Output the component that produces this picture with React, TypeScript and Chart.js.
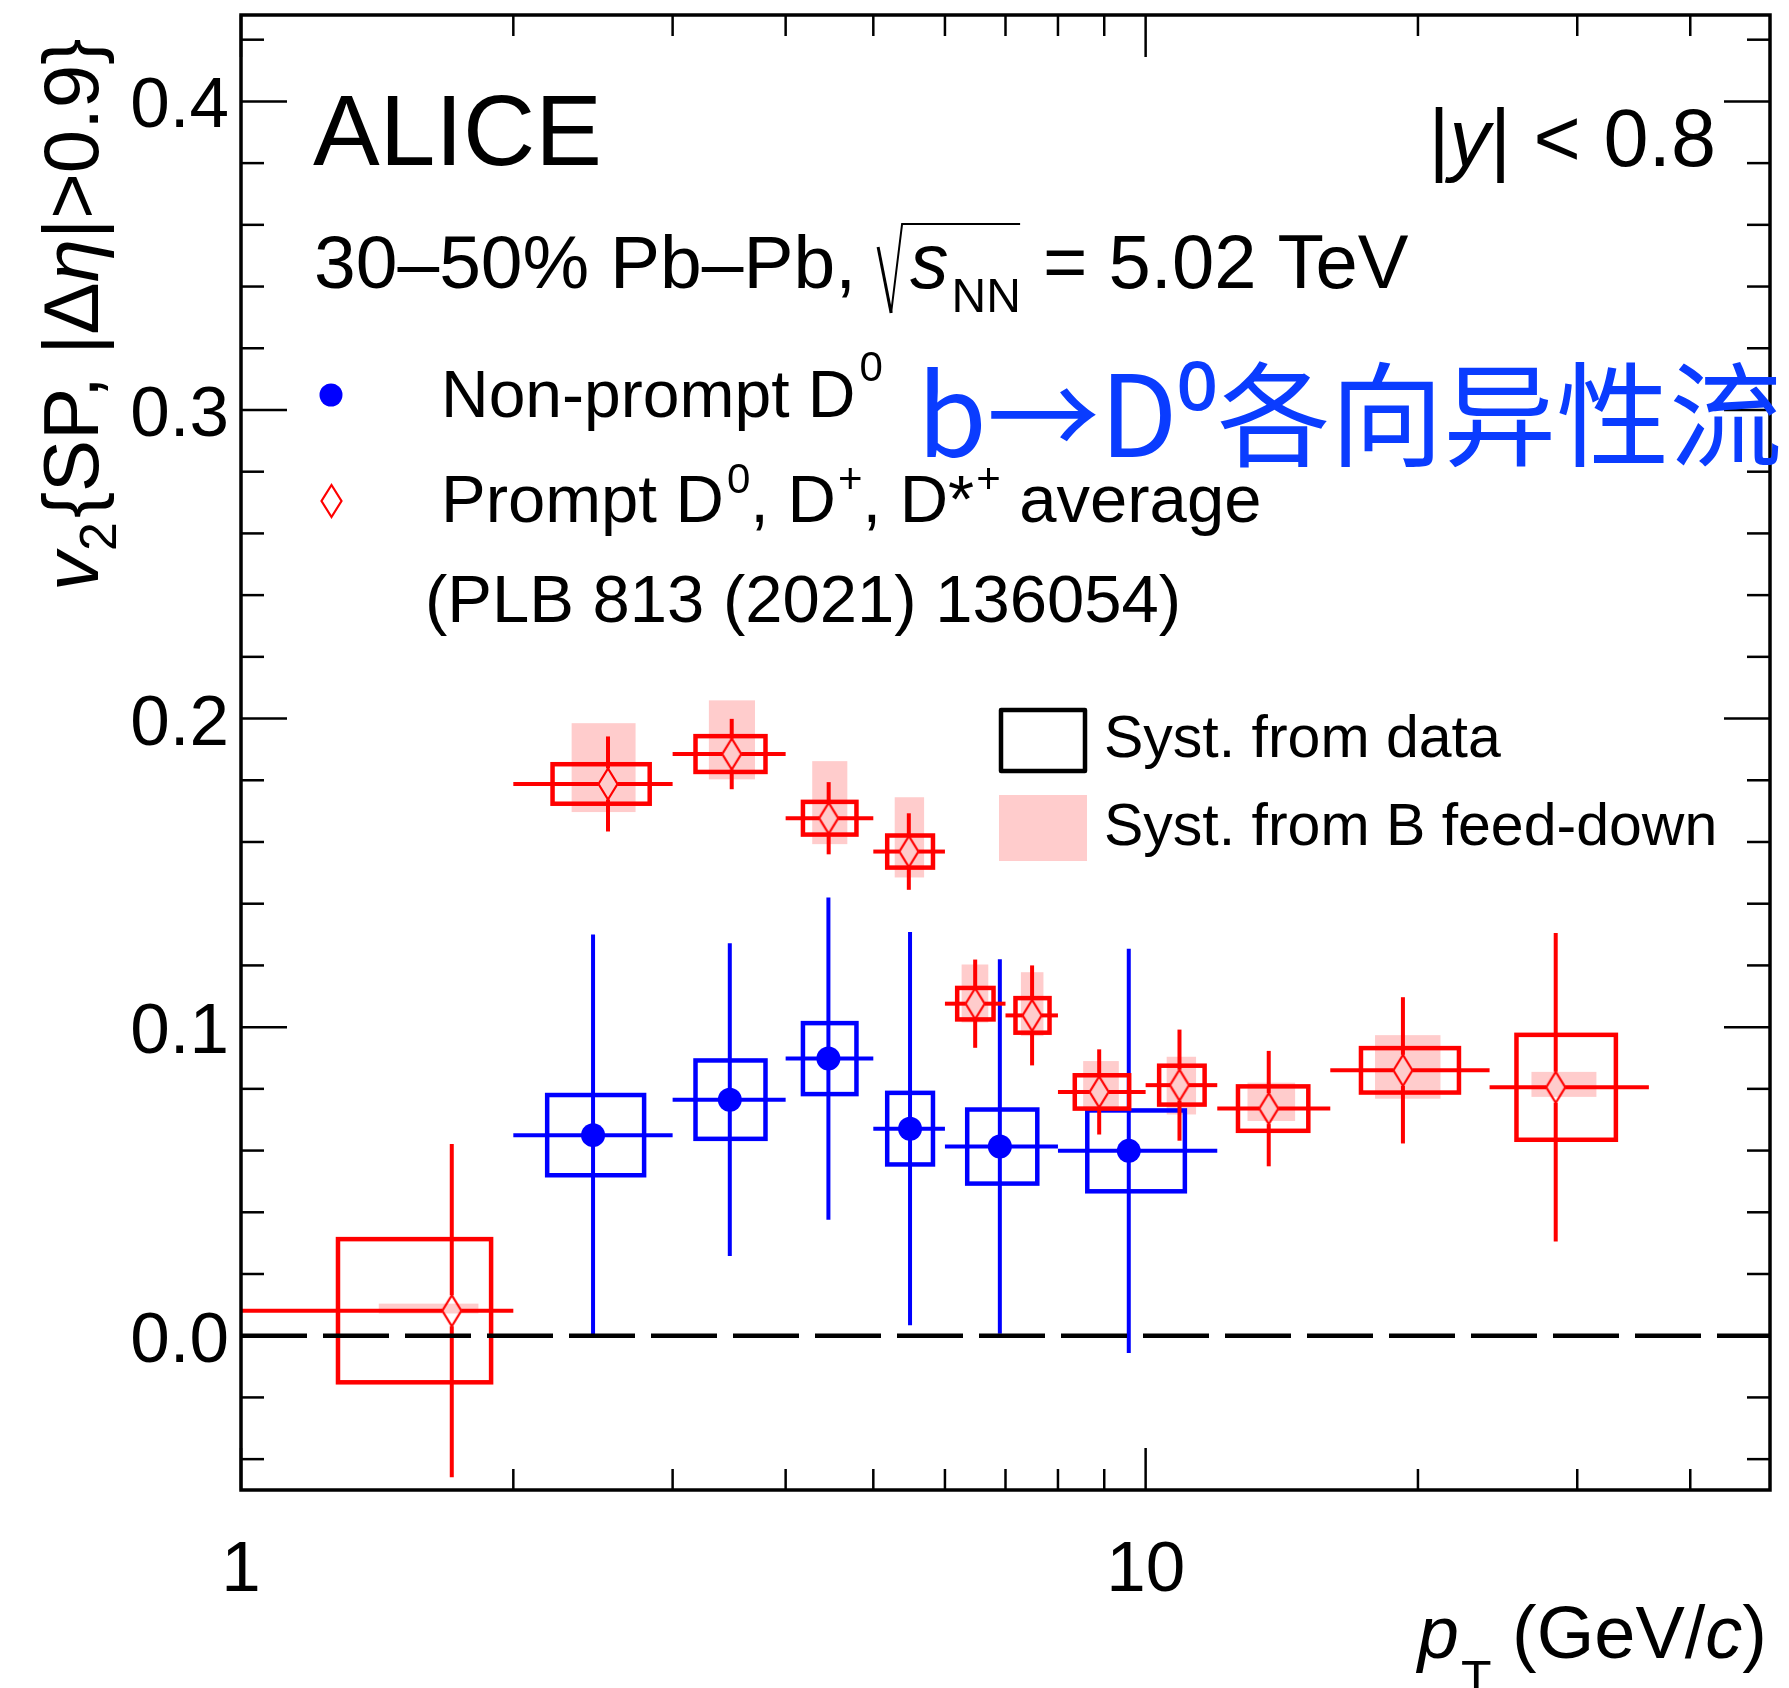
import React, { useEffect, useRef } from 'react';
import { Chart, registerables } from 'chart.js';

Chart.register(...registerables);

const W = 1789;
const H = 1688;
const FONT = '"Liberation Sans", Arial, Helvetica, sans-serif';
const CJK = '"Noto Sans CJK SC", "Noto Sans", sans-serif';
const BLUE = 'rgb(0,0,255)';
const RED = 'rgb(255,0,0)';
const PINK = 'rgb(255,204,204)';

// ---------- Non-prompt D0 (b -> D0) ----------
const npX = [2.45, 3.47, 4.46, 5.49, 6.9, 9.58];
const npY = [0.065, 0.0765, 0.0898, 0.0671, 0.0613, 0.0599];
const npXLow = [2, 3, 4, 5, 6, 8];
const npXHigh = [3, 4, 5, 6, 8, 12];
const npStat = [0.065, 0.0507, 0.0522, 0.0637, 0.0607, 0.0655];
const npSyst = [0.013, 0.0127, 0.0115, 0.0116, 0.012, 0.0131];
const npBoxLow = [2.18, 3.18, 4.18, 5.18, 6.35, 8.62];
const npBoxHigh = [2.79, 3.8, 4.79, 5.82, 7.59, 11.05];

// ---------- Prompt D0, D+, D*+ average ----------
const pX = [1.71, 2.545, 3.487, 4.463, 5.473, 6.48, 7.49, 8.885, 10.9, 13.68, 19.25, 28.4];
const pY = [0.0081, 0.1788, 0.1885, 0.1677, 0.1569, 0.1076, 0.1038, 0.079, 0.0812, 0.0736, 0.086, 0.0805];
const pXLow = [1, 2, 3, 4, 5, 6, 7, 8, 10, 12, 16, 24];
const pXHigh = [2, 3, 4, 5, 6, 7, 8, 10, 12, 16, 24, 36];
const pStat = [0.054, 0.0154, 0.0114, 0.0117, 0.0124, 0.0143, 0.0162, 0.0138, 0.018, 0.0187, 0.0237, 0.05];
const pSyst = [0.0232, 0.0064, 0.0058, 0.0053, 0.0052, 0.0051, 0.0056, 0.0054, 0.0063, 0.0072, 0.0072, 0.017];
const pBoxLow = [1.28, 2.21, 3.18, 4.18, 5.18, 6.19, 7.18, 8.35, 10.35, 12.65, 17.3, 25.7];
const pBoxHigh = [1.89, 2.83, 3.8, 4.79, 5.82, 6.79, 7.83, 9.59, 11.62, 15.13, 22.2, 33.1];
const pFdXLow = [1.42, 2.32, 3.29, 4.28, 5.28, 6.26, 7.28, 8.53, 10.55, 12.96, 17.93, 26.7];
const pFdXHigh = [1.83, 2.73, 3.7, 4.68, 5.69, 6.7, 7.71, 9.34, 11.37, 14.63, 21.18, 31.5];
const pFdYLow = [0.0072, 0.1697, 0.1803, 0.1593, 0.1485, 0.1015, 0.0971, 0.0733, 0.0717, 0.0696, 0.0768, 0.0774];
const pFdYHigh = [0.0104, 0.1985, 0.2059, 0.1862, 0.1745, 0.1203, 0.1178, 0.089, 0.0904, 0.082, 0.0974, 0.0855];

// ---------- axes ----------
const xMin = 1;
const xMax = 49;
const yMin = -0.05;
const yMax = 0.428;
const xMajorTicks = [1, 10];
const xTickLabels = ['1', '10'];
const xMinorTicks = [2, 3, 4, 5, 6, 7, 8, 9, 20, 30, 40];
const yMajorTicks = [0, 0.1, 0.2, 0.3, 0.4];
const yTickLabels = ['0.0', '0.1', '0.2', '0.3', '0.4'];
const yMinorTicks = [-0.04, -0.02, 0.02, 0.04, 0.06, 0.08, 0.12, 0.14, 0.16, 0.18, 0.22, 0.24, 0.26, 0.28, 0.32, 0.34, 0.36, 0.38, 0.42];

type Seg = { t: string; size: number; italic?: boolean; dy?: number; dx?: number; family?: string };

function segFont(s: Seg) {
  return `${s.italic ? 'italic ' : ''}${s.size}px ${s.family || FONT}`;
}
function richWidth(ctx: CanvasRenderingContext2D, segs: Seg[]) {
  let w = 0;
  for (const s of segs) {
    ctx.font = segFont(s);
    w += (s.dx || 0) + ctx.measureText(s.t).width;
  }
  return w;
}
function drawRich(ctx: CanvasRenderingContext2D, x: number, y: number, segs: Seg[], align: 'left' | 'right' = 'left') {
  let cx = align === 'right' ? x - richWidth(ctx, segs) : x;
  ctx.textAlign = 'left';
  ctx.textBaseline = 'alphabetic';
  for (const s of segs) {
    ctx.font = segFont(s);
    cx += s.dx || 0;
    ctx.fillText(s.t, cx, y + (s.dy || 0));
    cx += ctx.measureText(s.t).width;
  }
  return cx;
}

const DIA_HW = 9.5;
const DIA_HH = 15.5;

function makeDiamond(fill: string | null) {
  const c = document.createElement('canvas');
  c.width = 24;
  c.height = 36;
  const g = c.getContext('2d')!;
  g.beginPath();
  g.moveTo(12, 18 - DIA_HH);
  g.lineTo(12 + DIA_HW, 18);
  g.lineTo(12, 18 + DIA_HH);
  g.lineTo(12 - DIA_HW, 18);
  g.closePath();
  if (fill) {
    g.fillStyle = fill;
    g.fill();
  }
  g.strokeStyle = RED;
  g.lineWidth = 2.2;
  g.stroke();
  return c;
}

function line(ctx: CanvasRenderingContext2D, x1: number, y1: number, x2: number, y2: number) {
  ctx.beginPath();
  ctx.moveTo(x1, y1);
  ctx.lineTo(x2, y2);
  ctx.stroke();
}

const decor = {
  id: 'decor',
  beforeDatasetsDraw(chart: any) {
    const { ctx, chartArea: a } = chart;
    const xs = chart.scales.x;
    const ys = chart.scales.y;
    const px = (v: number) => xs.getPixelForValue(v);
    const py = (v: number) => ys.getPixelForValue(v);
    ctx.save();
    ctx.beginPath();
    ctx.rect(a.left, a.top, a.right - a.left, a.bottom - a.top);
    ctx.clip();

    // B feed-down systematic (pink filled)
    ctx.fillStyle = PINK;
    for (let i = 0; i < pX.length; i++) {
      const x1 = px(pFdXLow[i]);
      const x2 = px(pFdXHigh[i]);
      const y1 = py(pFdYHigh[i]);
      const y2 = py(pFdYLow[i]);
      ctx.fillRect(x1, y1, x2 - x1, y2 - y1);
    }

    ctx.lineCap = 'butt';
    // Non-prompt syst boxes
    ctx.strokeStyle = BLUE;
    ctx.lineWidth = 4.5;
    for (let i = 0; i < npX.length; i++) {
      const x1 = px(npBoxLow[i]);
      const x2 = px(npBoxHigh[i]);
      const y1 = py(npY[i] + npSyst[i]);
      const y2 = py(npY[i] - npSyst[i]);
      ctx.strokeRect(x1, y1, x2 - x1, y2 - y1);
    }
    // Non-prompt stat bars
    ctx.lineWidth = 4;
    for (let i = 0; i < npX.length; i++) {
      const cx = px(npX[i]);
      const cy = py(npY[i]);
      line(ctx, px(npXLow[i]), cy, px(npXHigh[i]), cy);
      line(ctx, cx, py(npY[i] + npStat[i]), cx, py(npY[i] - npStat[i]));
    }

    // Prompt syst boxes
    ctx.strokeStyle = RED;
    ctx.lineWidth = 4.5;
    for (let i = 0; i < pX.length; i++) {
      const x1 = px(pBoxLow[i]);
      const x2 = px(pBoxHigh[i]);
      const y1 = py(pY[i] + pSyst[i]);
      const y2 = py(pY[i] - pSyst[i]);
      ctx.strokeRect(x1, y1, x2 - x1, y2 - y1);
    }
    // Prompt stat bars (gap at the marker)
    ctx.lineWidth = 4;
    for (let i = 0; i < pX.length; i++) {
      const cx = px(pX[i]);
      const cy = py(pY[i]);
      const xl = px(pXLow[i]);
      const xh = px(pXHigh[i]);
      const yt = py(pY[i] + pStat[i]);
      const yb = py(pY[i] - pStat[i]);
      if (cx - DIA_HW > xl) line(ctx, xl, cy, cx - DIA_HW, cy);
      if (xh > cx + DIA_HW) line(ctx, cx + DIA_HW, cy, xh, cy);
      if (cy - DIA_HH > yt) line(ctx, cx, yt, cx, cy - DIA_HH);
      if (yb > cy + DIA_HH) line(ctx, cx, cy + DIA_HH, cx, yb);
    }

    // dashed zero line
    ctx.strokeStyle = '#000';
    ctx.lineWidth = 4.5;
    ctx.setLineDash([66, 16]);
    line(ctx, a.left, py(0), a.right, py(0));
    ctx.setLineDash([]);
    ctx.restore();
  },
  afterDraw(chart: any) {
    const { ctx, chartArea: a } = chart;
    const xs = chart.scales.x;
    const ys = chart.scales.y;
    const px = (v: number) => xs.getPixelForValue(v);
    const py = (v: number) => ys.getPixelForValue(v);
    ctx.save();
    ctx.fillStyle = '#000';
    ctx.strokeStyle = '#000';

    // ticks
    ctx.lineWidth = 2.5;
    for (const v of yMajorTicks) {
      const y = py(v);
      line(ctx, a.left, y, a.left + 46, y);
      line(ctx, a.right - 46, y, a.right, y);
    }
    for (const v of yMinorTicks) {
      const y = py(v);
      line(ctx, a.left, y, a.left + 23, y);
      line(ctx, a.right - 23, y, a.right, y);
    }
    for (const v of xMajorTicks) {
      const x = px(v);
      line(ctx, x, a.bottom, x, a.bottom - 42);
      line(ctx, x, a.top, x, a.top + 42);
    }
    for (const v of xMinorTicks) {
      const x = px(v);
      line(ctx, x, a.bottom, x, a.bottom - 21);
      line(ctx, x, a.top, x, a.top + 21);
    }
    // frame
    ctx.lineWidth = 3.5;
    ctx.strokeRect(a.left, a.top, a.right - a.left, a.bottom - a.top);

    // tick labels
    ctx.font = `71px ${FONT}`;
    ctx.textBaseline = 'alphabetic';
    ctx.textAlign = 'right';
    yMajorTicks.forEach((v, i) => ctx.fillText(yTickLabels[i], 229, py(v) + 26));
    ctx.textAlign = 'center';
    xMajorTicks.forEach((v, i) => ctx.fillText(xTickLabels[i], px(v), 1591));

    // axis titles
    drawRich(ctx, 1767, 1658, [
      { t: 'p', size: 74, italic: true },
      { t: 'T', size: 50, dy: 38, dx: 2 },
      { t: ' (GeV/', size: 74 },
      { t: 'c', size: 74, italic: true },
      { t: ')', size: 74 },
    ], 'right');
    ctx.save();
    ctx.translate(98, 591);
    ctx.rotate(-Math.PI / 2);
    drawRich(ctx, 0, 0, [
      { t: 'v', size: 78, italic: true },
      { t: '2', size: 52, dy: 18, dx: 1 },
      { t: '{SP, |Δ', size: 78, dx: 4 },
      { t: 'η', size: 78, italic: true },
      { t: '|>0.9}', size: 78 },
    ]);
    ctx.restore();

    // headline texts
    drawRich(ctx, 313, 165, [{ t: 'ALICE', size: 100 }]);
    drawRich(ctx, 1716, 166, [
      { t: '|', size: 81 },
      { t: 'y', size: 81, italic: true },
      { t: '| < 0.8', size: 81 },
    ], 'right');
    const endX = drawRich(ctx, 314, 288, [{ t: '30–50% Pb–Pb,', size: 75 }]);
    const x0 = endX + 22;
    ctx.lineWidth = 3;
    ctx.beginPath();
    ctx.moveTo(x0, 247);
    ctx.lineTo(x0 + 13, 313);
    ctx.stroke();
    ctx.lineWidth = 2;
    ctx.beginPath();
    ctx.moveTo(x0 + 13, 313);
    ctx.lineTo(x0 + 24, 224);
    ctx.lineTo(x0 + 142, 224);
    ctx.stroke();
    drawRich(ctx, x0 + 32, 288, [
      { t: 's', size: 77, italic: true },
      { t: 'NN', size: 48, dy: 24, dx: 3 },
      { t: ' = 5.02 TeV', size: 76, dx: 1 },
    ]);

    // legend (markers)
    ctx.fillStyle = BLUE;
    ctx.beginPath();
    ctx.arc(331, 395, 11.5, 0, Math.PI * 2);
    ctx.fill();
    ctx.fillStyle = '#fff';
    ctx.strokeStyle = RED;
    ctx.lineWidth = 2.2;
    ctx.beginPath();
    ctx.moveTo(331.5, 501 - 16);
    ctx.lineTo(331.5 + 10, 501);
    ctx.lineTo(331.5, 501 + 16);
    ctx.lineTo(331.5 - 10, 501);
    ctx.closePath();
    ctx.fill();
    ctx.stroke();

    ctx.fillStyle = '#000';
    drawRich(ctx, 441, 417, [
      { t: 'Non-prompt D', size: 66 },
      { t: '0', size: 42, dy: -36, dx: 4 },
    ]);
    drawRich(ctx, 441, 522, [
      { t: 'Prompt D', size: 67 },
      { t: '0', size: 42, dy: -29, dx: 3 },
      { t: ', D', size: 67 },
      { t: '+', size: 42, dy: -29, dx: 2 },
      { t: ', D*', size: 67 },
      { t: '+', size: 42, dy: -29, dx: 2 },
      { t: ' average', size: 67 },
    ]);
    drawRich(ctx, 425, 622, [{ t: '(PLB 813 (2021) 136054)', size: 67 }]);

    // systematics legend
    ctx.strokeStyle = '#000';
    ctx.lineWidth = 4.5;
    ctx.lineJoin = 'round';
    ctx.strokeRect(1001, 710, 84, 61);
    ctx.fillStyle = PINK;
    ctx.fillRect(999, 795, 88, 66);
    ctx.fillStyle = '#000';
    drawRich(ctx, 1104, 757, [{ t: 'Syst. from data', size: 59 }]);
    drawRich(ctx, 1104, 845, [{ t: 'Syst. from B feed-down', size: 59 }]);

    // Chinese annotation
    ctx.fillStyle = 'rgb(10,60,255)';
    ctx.font = `113px ${CJK}`;
    ctx.textAlign = 'left';
    ctx.fillText('b→D⁰各向异性流', 917, 457);
    ctx.restore();
  },
};

export default function App() {
  const ref = useRef<HTMLCanvasElement | null>(null);
  useEffect(() => {
    if (!ref.current) return;
    const diamond = makeDiamond(null);
    const chart = new Chart(ref.current, {
      type: 'scatter',
      data: {
        datasets: [
          {
            label: 'Non-prompt D0',
            data: npX.map((x, i) => ({ x, y: npY[i] })),
            pointStyle: 'circle',
            pointRadius: 12,
            backgroundColor: BLUE,
            borderColor: BLUE,
            borderWidth: 0,
            showLine: false,
          },
          {
            label: 'Prompt D average',
            data: pX.map((x, i) => ({ x, y: pY[i] })),
            pointStyle: diamond as any,
            pointRadius: 10,
            backgroundColor: 'rgba(0,0,0,0)',
            borderColor: RED,
            borderWidth: 0,
            showLine: false,
          },
        ],
      },
      options: {
        responsive: false,
        animation: false,
        devicePixelRatio: 1,
        events: [],
        layout: { padding: { left: 241, right: W - 1770, top: 15, bottom: H - 1490 } },
        plugins: { legend: { display: false }, tooltip: { enabled: false } },
        scales: {
          x: { type: 'logarithmic', min: xMin, max: xMax, display: false },
          y: { type: 'linear', min: yMin, max: yMax, display: false },
        },
      },
      plugins: [decor],
    });
    return () => chart.destroy();
  }, []);
  return (
    <div style={{ position: 'absolute', left: 0, top: 0, width: W, height: H, background: '#fff' }}>
      <canvas ref={ref} width={W} height={H} style={{ width: W, height: H, display: 'block' }} />
    </div>
  );
}
